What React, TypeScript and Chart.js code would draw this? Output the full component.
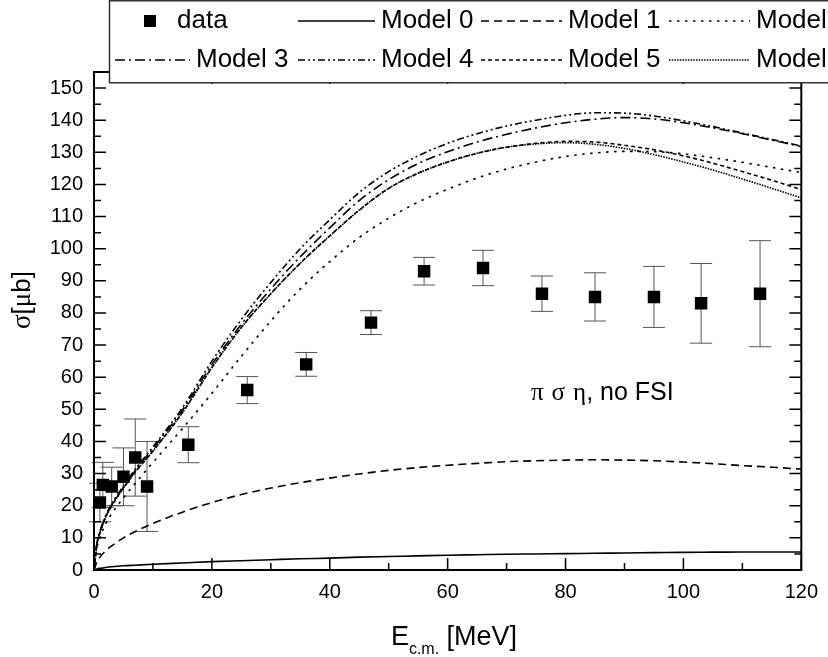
import React, { useEffect, useRef } from 'react';
import { Chart, registerables } from 'chart.js';

Chart.register(...registerables);

// ---- data ----
const dataX = [1, 1.5, 3, 5, 7, 9, 16, 26, 36, 47, 56, 66, 76, 85, 95, 103, 113];
const dataY = [21, 26.5, 26, 29, 35, 26, 39, 56, 64, 77, 93, 94, 86, 85, 85, 83, 86];
const dataErr = [6, 7, 6, 9, 12, 14, 5.6, 4.2, 3.7, 3.7, 4.3, 5.5, 5.5, 7.5, 9.5, 12.4, 16.5];

const modelX = [0, 0.5, 1, 2, 3, 5, 7, 10, 15, 20, 25, 30, 35, 40, 45, 50, 55, 60, 65, 70, 75, 80, 85, 90, 95, 100, 105, 110, 115, 120];
const model0 = [0, 0.3, 0.5, 0.8, 1.0, 1.3, 1.5, 1.8, 2.2, 2.6, 2.9, 3.2, 3.5, 3.7, 4.0, 4.2, 4.4, 4.6, 4.75, 4.9, 5.0, 5.1, 5.2, 5.3, 5.4, 5.5, 5.55, 5.6, 5.6, 5.6];
const model1 = [0, 2.5, 4, 6, 7.5, 10, 12, 14.5, 18, 21, 23.5, 25.5, 27.2, 28.6, 29.9, 31, 31.9, 32.6, 33.2, 33.7, 34, 34.2, 34.3, 34.2, 34, 33.6, 33.1, 32.5, 32, 31.4];
const model2 = [0, 7, 10, 14.5, 17.5, 22.5, 27, 33.5, 44, 55, 66.5, 77.5, 87.5, 96, 103.5, 109.5, 114.5, 118.5, 122, 124.8, 127, 128.7, 129.8, 130.3, 130.2, 129.5, 128.3, 126.9, 125.3, 123.7];
const model3 = [0, 8.3, 11.8, 16.8, 20.3, 25.8, 31, 37.8, 49.8, 64, 76.5, 87.5, 97.5, 106.5, 115, 121.5, 126.5, 130.2, 133.2, 135.6, 137.6, 139.2, 140.3, 140.8, 140.4, 139.2, 137.6, 135.8, 133.8, 131.8];
const model4 = [0, 8.5, 12, 17, 20.6, 26.2, 31.4, 38.3, 50.5, 65, 78, 89.5, 100, 109, 117.5, 124, 128.9, 132.8, 135.8, 138.2, 140, 141.5, 142.3, 142.2, 141.3, 139.8, 138, 136, 134, 132];
const model5 = [0, 8, 11.5, 16.5, 20, 25.5, 30.5, 37, 49, 63, 75.5, 86, 95.5, 104, 112, 118.8, 123.5, 127, 129.7, 131.6, 132.8, 133.4, 133.2, 132.2, 130.8, 128.9, 126.6, 124, 121.3, 118.4];
const model6 = [0, 8, 11.5, 16.5, 20, 25.5, 30.5, 37, 49, 63, 75.5, 86, 95.5, 104, 112, 118.8, 123.5, 127, 129.7, 131.6, 132.6, 133, 132.5, 131.2, 129.3, 127, 124.5, 121.7, 118.8, 115.8];

const modelNames = ['Model 0', 'Model 1', 'Model 2', 'Model 3', 'Model 4', 'Model 5', 'Model 6'];
const modelSeries = [model0, model1, model2, model3, model4, model5, model6];
const modelDash: number[][] = [[], [8, 5], [2.5, 5.5], [10, 4, 2, 4], [7, 3, 2, 3, 2, 3], [4, 3], [1.5, 1.2]];

const xTickValues = [0, 20, 40, 60, 80, 100, 120];
const xMinorTicks = [10, 30, 50, 70, 90, 110];
const yTickValues = [0, 10, 20, 30, 40, 50, 60, 70, 80, 90, 100, 110, 120, 130, 140, 150];
const yMinorTicks = [5, 15, 25, 35, 45, 55, 65, 75, 85, 95, 105, 115, 125, 135, 145];

const SANS = '"Liberation Sans", Arial, Helvetica, sans-serif';
const SERIF = '"Liberation Serif", "DejaVu Serif", serif';

const customPlugin = {
  id: 'customDecor',
  beforeDatasetsDraw(chart: any) {
    const ctx = chart.ctx;
    const xs = chart.scales.x;
    const ys = chart.scales.y;
    ctx.save();
    ctx.strokeStyle = '#555';
    ctx.lineWidth = 1;
    for (let i = 0; i < dataX.length; i++) {
      const px = xs.getPixelForValue(dataX[i]);
      const t = ys.getPixelForValue(dataY[i] + dataErr[i]);
      const b = ys.getPixelForValue(dataY[i] - dataErr[i]);
      ctx.beginPath();
      ctx.moveTo(px, t);
      ctx.lineTo(px, b);
      ctx.moveTo(px - 11, t);
      ctx.lineTo(px + 11, t);
      ctx.moveTo(px - 11, b);
      ctx.lineTo(px + 11, b);
      ctx.stroke();
    }
    ctx.restore();
  },
  afterDraw(chart: any) {
    const ctx = chart.ctx;
    const xs = chart.scales.x;
    const ys = chart.scales.y;
    const { left, right, top, bottom } = chart.chartArea;
    ctx.save();
    // frame
    ctx.strokeStyle = '#000';
    ctx.lineWidth = 2;
    ctx.strokeRect(left, top, right - left, bottom - top);
    // ticks
    ctx.lineWidth = 1.5;
    ctx.beginPath();
    const yt = (v: number, len: number) => {
      const p = ys.getPixelForValue(v);
      ctx.moveTo(left, p); ctx.lineTo(left + len, p);
      ctx.moveTo(right, p); ctx.lineTo(right - len, p);
    };
    const xt = (v: number, len: number) => {
      const p = xs.getPixelForValue(v);
      ctx.moveTo(p, bottom); ctx.lineTo(p, bottom - len);
      ctx.moveTo(p, top); ctx.lineTo(p, top + len);
    };
    yTickValues.forEach((v) => yt(v, 12));
    yMinorTicks.forEach((v) => yt(v, 7));
    xTickValues.forEach((v) => xt(v, 12));
    xMinorTicks.forEach((v) => xt(v, 7));
    ctx.stroke();

    // y title  σ[μb]
    ctx.save();
    ctx.translate(23, 300);
    ctx.rotate(-Math.PI / 2);
    ctx.fillStyle = '#000';
    ctx.textBaseline = 'middle';
    const ySegs: [string, string][] = [['σ', `27px ${SERIF}`], ['[', `26px ${SANS}`], ['μ', `27px ${SERIF}`], ['b]', `26px ${SANS}`]];
    let tw = 0;
    ySegs.forEach(([s, f]) => { ctx.font = f; tw += ctx.measureText(s).width; });
    let cx = -tw / 2;
    ySegs.forEach(([s, f]) => { ctx.font = f; ctx.fillText(s, cx, 0); cx += ctx.measureText(s).width; });
    ctx.restore();

    // x title E_c.m. [MeV]
    ctx.fillStyle = '#000';
    ctx.textBaseline = 'alphabetic';
    ctx.font = `27px ${SANS}`;
    const wE = ctx.measureText('E').width;
    const wM = ctx.measureText(' [MeV]').width;
    ctx.font = `16px ${SANS}`;
    const wS = ctx.measureText('c.m.').width;
    let sx = 454 - (wE + wS + wM) / 2;
    ctx.font = `27px ${SANS}`;
    ctx.fillText('E', sx, 645);
    sx += wE;
    ctx.font = `16px ${SANS}`;
    ctx.fillText('c.m.', sx, 654);
    sx += wS;
    ctx.font = `27px ${SANS}`;
    ctx.fillText(' [MeV]', sx, 645);

    // annotation
    ctx.textBaseline = 'middle';
    ctx.font = `25px ${SERIF}`;
    let ax = 531;
    ['π', 'σ', 'η'].forEach((g) => {
      ctx.fillText(g, ax, 393);
      ax += ctx.measureText(g).width + 8;
    });
    ax -= 8;
    ctx.font = `25px ${SANS}`;
    ctx.fillText(', no FSI', ax, 393);

    // legend box
    ctx.fillStyle = '#fff';
    ctx.fillRect(109, 0, 740, 83);
    ctx.strokeStyle = '#333';
    ctx.lineWidth = 1.5;
    ctx.strokeRect(109.5, 0.75, 740, 82);

    ctx.fillStyle = '#000';
    ctx.font = `26px ${SANS}`;
    ctx.textBaseline = 'middle';
    const row1 = 21;
    const row2 = 60;
    // data marker
    ctx.fillRect(144, row1 - 6, 12, 12);
    ctx.fillText('data', 177, row1);
    const items: [number, number, number, number][] = [
      // modelIndex, lineStart, lineEnd, row
      [0, 298, 375, row1],
      [1, 481, 562, row1],
      [2, 669, 750, row1],
      [3, 115, 190, row2],
      [4, 298, 375, row2],
      [5, 481, 562, row2],
      [6, 669, 750, row2],
    ];
    items.forEach(([mi, x0, x1, ry]) => {
      ctx.save();
      ctx.strokeStyle = '#000';
      ctx.lineWidth = 1.5;
      ctx.setLineDash(modelDash[mi]);
      ctx.beginPath();
      ctx.moveTo(x0, ry);
      ctx.lineTo(x1, ry);
      ctx.stroke();
      ctx.restore();
      ctx.fillText(modelNames[mi], x1 + 6, ry);
    });
    ctx.restore();
  },
};

export default function App() {
  const ref = useRef<HTMLCanvasElement | null>(null);
  useEffect(() => {
    document.body.style.margin = '0';
    const canvas = ref.current;
    if (!canvas) return;
    const datasets: any[] = [
      {
        label: 'data',
        data: dataX.map((x, i) => ({ x, y: dataY[i] })),
        showLine: false,
        pointStyle: 'rect',
        pointRadius: 8.8,
        pointBackgroundColor: '#000',
        pointBorderWidth: 0,
        borderColor: '#000',
        backgroundColor: '#000',
      },
    ];
    modelSeries.forEach((arr, k) => {
      datasets.push({
        label: modelNames[k],
        data: modelX.map((x, i) => ({ x, y: arr[i] })),
        showLine: true,
        borderColor: '#000',
        borderWidth: 1.6,
        borderDash: modelDash[k],
        pointRadius: 0,
        fill: false,
        cubicInterpolationMode: 'monotone',
      });
    });
    const chart = new Chart(canvas, {
      type: 'scatter',
      data: { datasets },
      options: {
        animation: false,
        responsive: false,
        devicePixelRatio: 1,
        layout: { padding: { top: 72, right: 20, left: 0, bottom: 0 } },
        plugins: { legend: { display: false }, tooltip: { enabled: false }, title: { display: false } },
        scales: {
          x: {
            type: 'linear',
            min: 0,
            max: 120,
            afterBuildTicks: (s: any) => { s.ticks = xTickValues.map((v) => ({ value: v })); },
            afterFit: (s: any) => { s.height = 87; },
            grid: { display: false, drawTicks: false },
            border: { display: false },
            ticks: { color: '#000', padding: 10, font: { size: 20, family: SANS }, maxRotation: 0, autoSkip: false },
          },
          y: {
            type: 'linear',
            min: 0,
            max: 155,
            afterBuildTicks: (s: any) => { s.ticks = yTickValues.map((v) => ({ value: v })); },
            afterFit: (s: any) => { s.width = 94; },
            grid: { display: false, drawTicks: false },
            border: { display: false },
            ticks: { color: '#000', padding: 11, font: { size: 20, family: SANS }, autoSkip: false },
          },
        },
      },
      plugins: [customPlugin],
    });
    return () => chart.destroy();
  }, []);
  return <canvas ref={ref} width={828} height={657} style={{ display: 'block' }} />;
}
